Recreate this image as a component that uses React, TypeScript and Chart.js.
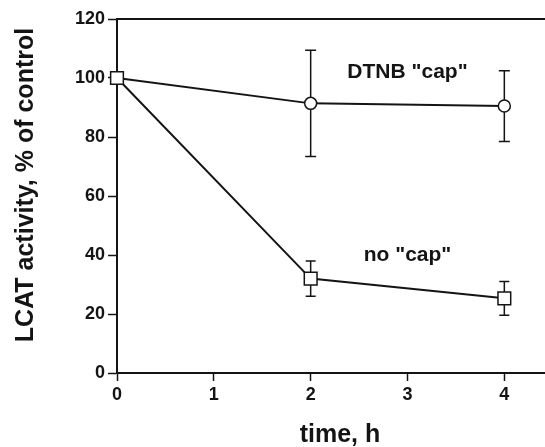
import React, { useEffect, useRef } from "react";
import { Chart, registerables } from "chart.js";

Chart.register(...registerables);

const times = [0, 2, 4];
const dtnbCap = [100, 91.4, 90.5];
const dtnbErr = [0, 18, 12];
const noCap = [100, 32, 25.3];
const noCapErr = [0, 6, 5.7];
const xTicks = [0, 1, 2, 3, 4];
const yTicks = [0, 20, 40, 60, 80, 100, 120];
const labelDtnb = 'DTNB "cap"';
const labelNoCap = 'no "cap"';
const xTitle = "time, h";
const yTitle = "LCAT activity, % of control";
const annotDtnb = { x: 3, y: 102 };
const annotNoCap = { x: 3, y: 40 };

const FONT = "'Liberation Sans', Arial, Helvetica, sans-serif";
const INK = "#141414";

const errorBarPlugin = {
  id: "errorBars",
  beforeDatasetsDraw(chart: any) {
    const { ctx, scales } = chart;
    const xs = scales.x;
    const ys = scales.y;
    const sets = [
      { vals: noCap, errs: noCapErr, cap: 5 },
      { vals: dtnbCap, errs: dtnbErr, cap: 5.5 },
    ];
    ctx.save();
    ctx.strokeStyle = INK;
    ctx.lineWidth = 1.5;
    sets.forEach((s) => {
      times.forEach((t, i) => {
        const e = s.errs[i];
        if (!e) return;
        const px = xs.getPixelForValue(t);
        const top = ys.getPixelForValue(s.vals[i] + e);
        const bot = ys.getPixelForValue(s.vals[i] - e);
        ctx.beginPath();
        ctx.moveTo(px, top);
        ctx.lineTo(px, bot);
        ctx.moveTo(px - s.cap, top);
        ctx.lineTo(px + s.cap, top);
        ctx.moveTo(px - s.cap, bot);
        ctx.lineTo(px + s.cap, bot);
        ctx.stroke();
      });
    });
    ctx.restore();
  },
  afterDraw(chart: any) {
    const { ctx, chartArea, scales } = chart;
    ctx.save();
    ctx.strokeStyle = INK;
    ctx.lineWidth = 2;
    ctx.beginPath();
    ctx.moveTo(chartArea.left, chartArea.top);
    ctx.lineTo(chartArea.right, chartArea.top);
    ctx.stroke();
    ctx.fillStyle = INK;
    ctx.font = `bold 21px ${FONT}`;
    ctx.textAlign = "center";
    ctx.textBaseline = "middle";
    ctx.fillText(labelDtnb, scales.x.getPixelForValue(annotDtnb.x), scales.y.getPixelForValue(annotDtnb.y));
    ctx.fillText(labelNoCap, scales.x.getPixelForValue(annotNoCap.x), scales.y.getPixelForValue(annotNoCap.y));
    // axis titles
    ctx.font = `bold 25px ${FONT}`;
    ctx.textBaseline = "alphabetic";
    ctx.fillText(xTitle, 340, 442);
    ctx.translate(33, 185);
    ctx.rotate(-Math.PI / 2);
    ctx.fillText(yTitle, 0, 0);
    ctx.restore();
  },
};

export default function App() {
  const ref = useRef<HTMLCanvasElement | null>(null);
  useEffect(() => {
    if (!ref.current) return;
    const chart = new Chart(ref.current, {
      type: "line",
      data: {
        datasets: [
          {
            label: labelNoCap,
            data: times.map((t, i) => ({ x: t, y: noCap[i] })),
            borderColor: INK,
            borderWidth: 2,
            pointStyle: "rect",
            pointRadius: 9,
            pointBorderWidth: 1.5,
            pointBackgroundColor: "#fff",
            pointBorderColor: INK,
            tension: 0,
            clip: false,
          },
          {
            label: labelDtnb,
            data: times.map((t, i) => ({ x: t, y: dtnbCap[i] })),
            borderColor: INK,
            borderWidth: 2,
            pointStyle: "circle",
            pointRadius: [0, 6, 6],
            pointBorderWidth: 1.5,
            pointBackgroundColor: "#fff",
            pointBorderColor: INK,
            tension: 0,
            clip: false,
          },
        ],
      },
      options: {
        responsive: false,
        animation: false,
        layout: { autoPadding: false, padding: { top: 19, left: 0, right: 0, bottom: 0 } },
        plugins: { legend: { display: false }, tooltip: { enabled: false } },
        scales: {
          x: {
            type: "linear",
            min: 0,
            max: 4.42,
            afterBuildTicks: (s: any) => {
              s.ticks = xTicks.map((v) => ({ value: v }));
            },
            afterFit: (s: any) => {
              s.height = 74;
              s.paddingLeft = 0;
              s.paddingRight = 0;
            },
            grid: { drawOnChartArea: false, drawTicks: true, tickLength: 8, color: INK, tickWidth: 1.5 },
            border: { color: INK, width: 2 },
            ticks: { color: INK, padding: 3, maxRotation: 0, font: { family: FONT, size: 18, weight: "bold" } },
          },
          y: {
            type: "linear",
            min: 0,
            max: 120,
            afterBuildTicks: (s: any) => {
              s.ticks = yTicks.map((v) => ({ value: v }));
            },
            afterFit: (s: any) => {
              s.width = 117;
            },
            grid: { drawOnChartArea: false, drawTicks: true, tickLength: 9, color: INK, tickWidth: 1.5 },
            border: { color: INK, width: 2 },
            ticks: { color: INK, padding: 3, font: { family: FONT, size: 18, weight: "bold" } },
          },
        },
      },
      plugins: [errorBarPlugin],
    } as any);
    return () => chart.destroy();
  }, []);
  return (
    <div style={{ position: "absolute", left: 0, top: 0, width: 545, height: 447, background: "#fff" }}>
      <canvas ref={ref} width={545} height={447} />
    </div>
  );
}
